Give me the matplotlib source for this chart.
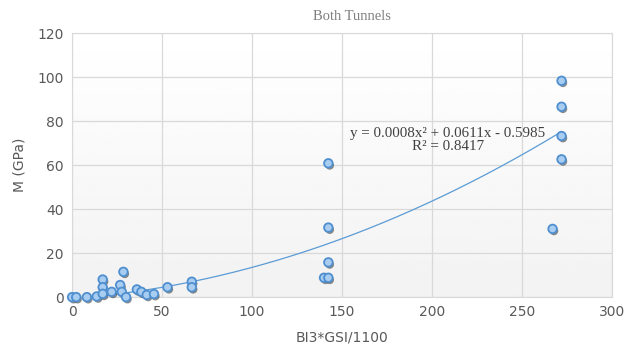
import numpy as np
import matplotlib.pyplot as plt
import matplotlib.patheffects as pe

# data
x_vals = [0, 2.3, 8.2, 13.7, 17, 17, 17, 22, 26.7, 28.5, 27.6, 30, 36, 38.5, 41.5, 45.5,
          53, 66.5, 66.5, 140, 142.4, 142.4, 142.4, 142.4, 267, 272, 272, 272, 272]
y_vals = [0, 0, 0, 0.3, 8, 4.5, 1.5, 2.4, 5.5, 11.5, 2.4, 0, 3.5, 2.4, 1, 1.4,
          4.5, 7, 4.5, 8.8, 8.8, 15.8, 31.6, 60.8, 31, 98.3, 86.5, 73.2, 62.6]
coef = [0.0008, 0.0611, -0.5985]
x_ticks = [0, 50, 100, 150, 200, 250, 300]
y_ticks = [0, 20, 40, 60, 80, 100, 120]

fig = plt.figure(figsize=(6.27, 3.55), dpi=100)
ax = fig.add_axes([0.115, 0.163, 0.861, 0.744])

# faint vertical gradient in the plot area
grad = np.linspace(0.95, 1.0, 100).reshape(-1, 1)
ax.imshow(grad, extent=[0, 300, 0, 120], aspect='auto', cmap='gray', vmin=0, vmax=1,
          origin='lower', zorder=0)

ax.set_xlim(0, 300)
ax.set_ylim(0, 120)
ax.set_xticks(x_ticks)
ax.set_yticks(y_ticks)
ax.grid(color='#d9d9d9', lw=0.9, zorder=1)
for s in ax.spines.values():
    s.set_color('#d9d9d9')
ax.tick_params(length=0, labelsize=10, labelcolor='#595959', pad=6)

xx = np.linspace(0, 272, 200)
ax.plot(xx, np.polyval(coef, xx), color='#5b9bd5', lw=0.9, zorder=2)

sc = ax.scatter(x_vals, y_vals, s=38, facecolor='#a8cdf0', edgecolor='#4f8fd0', lw=1.3,
                zorder=3, clip_on=False)
sc.set_path_effects([pe.SimplePatchShadow(offset=(1, -1.5), shadow_rgbFace='k', alpha=0.45),
                     pe.Normal()])

fig.text(448 / 627, 1 - 140 / 355, 'y = 0.0008x² + 0.0611x - 0.5985\nR² = 0.8417',
         ha='center', va='center', fontsize=10.8, family='Liberation Serif',
         color='#404040', linespacing=1.0, multialignment='center')
fig.text(352 / 627, 1 - 16 / 355, 'Both Tunnels', ha='center', va='center',
         fontsize=10.5, family='Liberation Serif', color='#7f7f7f')

ax.set_xlabel('BI3*GSI/1100', fontsize=10, color='#595959', labelpad=8)
ax.set_ylabel('M (GPa)', fontsize=10, color='#595959', labelpad=8)

fig.savefig('out.png', dpi=100)
